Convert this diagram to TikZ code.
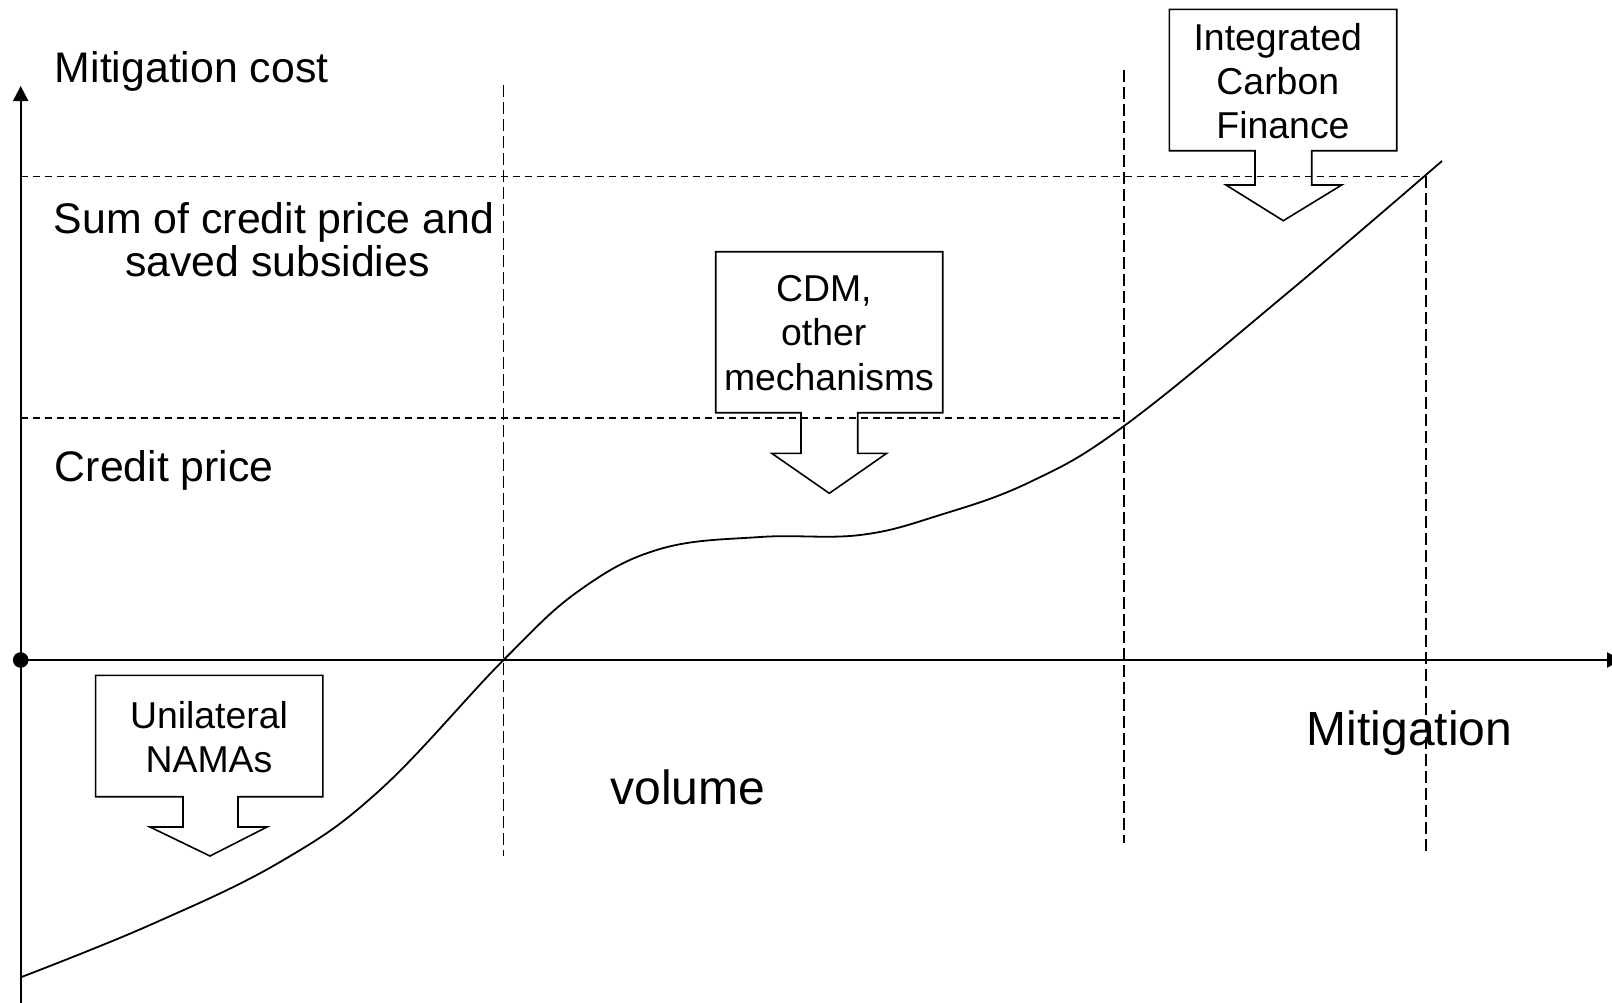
\documentclass[tikz,border=0pt]{standalone}
\usepackage{fontspec}
\setmainfont{Liberation Sans}
\usetikzlibrary{arrows.meta}
\begin{document}
\begin{tikzpicture}[x=0.5pt,y=-0.5pt,
  lbl/.style={font=\fontsize{21.4}{22}\selectfont, inner sep=0pt, anchor=base west},
  lblc/.style={font=\fontsize{21.4}{22}\selectfont, inner sep=0pt, anchor=base},
  big/.style={font=\fontsize{24}{26}\selectfont, inner sep=0pt, anchor=base west},
  boxtxt/.style={font=\fontsize{18.7}{22.1}\selectfont, align=center, inner sep=0pt},
  callout/.style={draw, line width=0.8pt},
  hdash/.style={line width=0.6pt, dash pattern=on 3.75pt off 2.25pt},
  vdash/.style={line width=0.6pt, dash pattern=on 6pt off 2.5pt},
  axis/.style={line width=1pt, -{Triangle[length=7.5pt,width=7.5pt]}},
  curve/.style={line width=0.9pt}]
\clip (0,0) rectangle (1612,1002);
% named points
\coordinate (O) at (20.7,660);
\coordinate (ybot) at (20.7,1012);
\coordinate (ytop) at (20.7,86);
\coordinate (xend) at (1622,660);
\coordinate (h1a) at (20.7,176.3);
\coordinate (h1b) at (1426,176.3);
\coordinate (h2a) at (20.7,418);
\coordinate (h2b) at (1124,418);
\coordinate (v1a) at (503.3,85);
\coordinate (v1b) at (503.3,856);
\coordinate (v2a) at (1124,70);
\coordinate (v2b) at (1124,843);
\coordinate (v3b) at (1426,853);
% dashed guides
\draw[hdash] (h1a) -- (h1b);
\draw[hdash] (h2a) -- (h2b);
\draw[vdash] (v1a) -- (v1b);
\draw[vdash] (v2a) -- (v2b);
\draw[vdash] (h1b) -- (v3b);
% axes
\draw[axis] (ybot) -- (ytop);
\draw[axis] (O) -- (xend);
\fill (O) circle[radius=3.9pt];
% curve
\draw[curve] plot[smooth, tension=0.65] coordinates {
 (20.7,977.3) (150,925) (280,862) (380,790) (503.5,660)
 (580,590) (660,549) (760,537) (860,535) (940,515) (1030,482)
 (1124,426) (1285,295) (1442,161)};
% labels
\node[lbl] (mc) at (54.5,82) {Mitigation cost};
\node[lblc] (sum1) at (274,233.3) {Sum of credit price and};
\node[lblc] (sum2) at (277.5,276) {saved subsidies};
\node[lbl] (cp) at (54.5,481) {Credit price};
\node[big] (mit) at (1306.5,745) {Mitigation};
\node[big] (vol) at (610,804) {volume};
% callouts
\draw[callout] (1169.3,9.3) -- (1396.7,9.3) -- (1396.7,150.7) -- (1311.7,150.7) -- (1311.7,185) -- (1341.7,185) -- (1283.3,220.7) -- (1226,185) -- (1255,185) -- (1255,150.7) -- (1169.3,150.7) -- cycle;
\node[boxtxt] (icf) at (1283,81) {Integrated\kern0.278em\\Carbon\kern0.278em\\Finance};
\draw[callout] (715.7,251.7) -- (942.7,251.7) -- (942.7,412.7) -- (857.7,412.7) -- (857.7,453.3) -- (886.7,453.3) -- (829.3,493.3) -- (771.7,453.3) -- (801,453.3) -- (801,412.7) -- (715.7,412.7) -- cycle;
\node[boxtxt] (cdm) at (829,333) {CDM,\kern0.278em\\other\kern0.278em\\mechanisms};
\draw[callout] (95.6,675.4) -- (322.8,675.4) -- (322.8,796.7) -- (238,796.7) -- (238,827) -- (267,827) -- (210,856) -- (150,827) -- (183,827) -- (183,796.7) -- (95.6,796.7) -- cycle;
\node[boxtxt] (una) at (209,737) {Unilateral\\NAMAs};
\end{tikzpicture}
\end{document}
